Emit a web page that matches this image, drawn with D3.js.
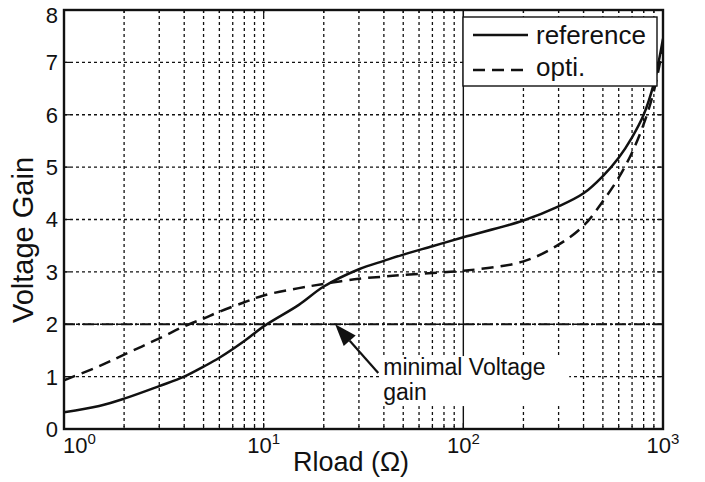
<!DOCTYPE html>
<html>
<head>
<meta charset="utf-8">
<script src="https://cdn.jsdelivr.net/npm/d3@7"></script>
<style>
  body { margin: 0; background: #fff; }
  svg text { font-family: "Liberation Sans", Arial, sans-serif; fill: #111; }
  .grid { stroke: #111; stroke-width: 1.3; stroke-dasharray: 3,3; }
</style>
</head>
<body>
<svg id="chart" width="705" height="482"></svg>
<script>
// values
const rload = [1, 1.5, 2, 3, 4, 5, 6, 8, 10, 15, 20, 30, 40, 50, 70, 100, 200, 300, 400, 500, 600, 700, 800, 900, 1000];
const reference = [0.32, 0.44, 0.58, 0.82, 1.0, 1.19, 1.36, 1.68, 1.96, 2.37, 2.72, 3.05, 3.21, 3.33, 3.49, 3.66, 3.98, 4.25, 4.5, 4.83, 5.18, 5.57, 6.0, 6.6, 7.45];
const opti = [0.93, 1.2, 1.42, 1.73, 1.96, 2.11, 2.24, 2.42, 2.55, 2.69, 2.77, 2.87, 2.91, 2.94, 2.98, 3.02, 3.2, 3.52, 3.88, 4.35, 4.8, 5.28, 5.82, 6.45, 7.3];
const yTicks = [0, 1, 2, 3, 4, 5, 6, 7, 8];
const xDecades = [0, 1, 2, 3];
const minimalGain = 2;
const legendLabels = ['reference', 'opti.'];
const noteLines = ['minimal Voltage', 'gain'];
const noteTip = { x: 22.8, y: 2 };
const noteTail = { x: 37.5, y: 1.07 };
const noteText = { x: 39.7, y: 1.03 };

const WIDTH = 705;
const HEIGHT = 482;
const margin = { top: 10, right: 42, bottom: 53, left: 64 };
const plotW = WIDTH - margin.left - margin.right;
const plotH = HEIGHT - margin.top - margin.bottom;

const svg = d3.select('#chart');
const x = d3.scaleLog().domain([1, 1000]).range([margin.left, margin.left + plotW]);
const y = d3.scaleLinear().domain([0, 8]).range([margin.top + plotH, margin.top]);

const minorX = [];
[1, 10, 100].forEach((base) => {
  for (let k = 2; k <= 9; k++) minorX.push(base * k);
});

// grid
const gridG = svg.append('g');
gridG.selectAll('line.vx')
  .data(minorX.concat([10]))
  .enter()
    .append('line')
    .classed('grid', true)
    .attr('x1', (d) => x(d))
    .attr('x2', (d) => x(d))
    .attr('y1', margin.top)
    .attr('y2', margin.top + plotH);
gridG.selectAll('line.hy')
  .data(yTicks.slice(1, -1))
  .enter()
    .append('line')
    .classed('grid', true)
    .attr('x1', margin.left)
    .attr('x2', margin.left + plotW)
    .attr('y1', (d) => y(d))
    .attr('y2', (d) => y(d));

// solid line at 10^2
svg.append('line')
  .attr('x1', x(100)).attr('x2', x(100))
  .attr('y1', margin.top).attr('y2', margin.top + plotH)
  .attr('stroke', '#111').attr('stroke-width', 1.4);

// ticks (inward)
const tickG = svg.append('g').attr('stroke', '#111').attr('stroke-width', 1.2);
const allX = minorX.concat(xDecades.map((e) => Math.pow(10, e)));
tickG.selectAll('line.tb')
  .data(allX)
  .enter()
    .append('line')
    .attr('x1', (d) => x(d)).attr('x2', (d) => x(d))
    .attr('y1', margin.top + plotH)
    .attr('y2', (d) => margin.top + plotH - (minorX.includes(d) ? 3 : 6));
tickG.selectAll('line.tt')
  .data(allX)
  .enter()
    .append('line')
    .attr('x1', (d) => x(d)).attr('x2', (d) => x(d))
    .attr('y1', margin.top)
    .attr('y2', (d) => margin.top + (minorX.includes(d) ? 3 : 6));
tickG.selectAll('line.tl')
  .data(yTicks)
  .enter()
    .append('line')
    .attr('x1', margin.left).attr('x2', margin.left + 6)
    .attr('y1', (d) => y(d)).attr('y2', (d) => y(d));
tickG.selectAll('line.tr')
  .data(yTicks)
  .enter()
    .append('line')
    .attr('x1', margin.left + plotW).attr('x2', margin.left + plotW - 6)
    .attr('y1', (d) => y(d)).attr('y2', (d) => y(d));

// minimal gain dash-dot line
svg.append('line')
  .attr('x1', x(1)).attr('x2', x(1000))
  .attr('y1', y(minimalGain)).attr('y2', y(minimalGain))
  .attr('stroke', '#111')
  .attr('stroke-width', 2.2)
  .attr('stroke-dasharray', '11,3,2,3');

// annotation box + text
const noteG = svg.append('g');
noteG.append('rect')
  .attr('x', x(noteText.x) - 4)
  .attr('y', y(noteText.y) - 19)
  .attr('width', 190)
  .attr('height', 50)
  .attr('fill', '#fff');
noteG.selectAll('text')
  .data(noteLines)
  .enter()
    .append('text')
    .attr('x', x(noteText.x))
    .attr('y', (d, i) => y(noteText.y) + i * 25)
    .attr('font-size', 23)
    .text((d) => d);

// arrow
const tipX = x(noteTip.x), tipY = y(noteTip.y);
const tailX = x(noteTail.x), tailY = y(noteTail.y);
const ang = Math.atan2(tailY - tipY, tailX - tipX);
const headLen = 22, headHalf = 8;
const bx = tipX + headLen * Math.cos(ang), by = tipY + headLen * Math.sin(ang);
noteG.append('line')
  .attr('x1', bx).attr('y1', by)
  .attr('x2', tailX).attr('y2', tailY)
  .attr('stroke', '#111').attr('stroke-width', 2.2);
noteG.append('path')
  .attr('d', `M${tipX},${tipY}L${bx - headHalf * Math.sin(ang)},${by + headHalf * Math.cos(ang)}L${bx + headHalf * Math.sin(ang)},${by - headHalf * Math.cos(ang)}Z`)
  .attr('fill', '#111');

// curves
svg.append('clipPath').attr('id', 'clip')
  .append('rect')
  .attr('x', margin.left).attr('y', margin.top)
  .attr('width', plotW).attr('height', plotH);
const line = d3.line()
  .x((d) => x(d[0]))
  .y((d) => y(d[1]))
  .curve(d3.curveCatmullRom.alpha(0.5));
const curveG = svg.append('g').attr('clip-path', 'url(#clip)');
curveG.append('path')
  .datum(rload.map((r, i) => [r, reference[i]]))
  .attr('d', line)
  .attr('fill', 'none')
  .attr('stroke', '#111')
  .attr('stroke-width', 2.5);
curveG.append('path')
  .datum(rload.map((r, i) => [r, opti[i]]))
  .attr('d', line)
  .attr('fill', 'none')
  .attr('stroke', '#111')
  .attr('stroke-width', 2.5)
  .attr('stroke-dasharray', '12,7');

// legend
const legend = svg.append('g');
legend.append('rect')
  .attr('x', 463).attr('y', 17)
  .attr('width', 194).attr('height', 69)
  .attr('fill', '#fff')
  .attr('stroke', '#111')
  .attr('stroke-width', 1.4);
legend.selectAll('line')
  .data(legendLabels)
  .enter()
    .append('line')
    .attr('x1', 473).attr('x2', 528)
    .attr('y1', (d, i) => 35 + i * 35)
    .attr('y2', (d, i) => 35 + i * 35)
    .attr('stroke', '#111')
    .attr('stroke-width', 2.5)
    .attr('stroke-dasharray', (d, i) => (i === 0 ? null : '12,7'));
legend.selectAll('text')
  .data(legendLabels)
  .enter()
    .append('text')
    .attr('x', 536)
    .attr('y', (d, i) => 44 + i * 32)
    .attr('font-size', 26)
    .text((d) => d);

// axes frame
svg.append('rect')
  .attr('x', margin.left).attr('y', margin.top)
  .attr('width', plotW).attr('height', plotH)
  .attr('fill', 'none')
  .attr('stroke', '#111')
  .attr('stroke-width', 2.4);

// y tick labels
svg.append('g').selectAll('text')
  .data(yTicks)
  .enter()
    .append('text')
    .attr('x', margin.left - 6)
    .attr('y', (d) => y(d) + (d === 8 ? 5 : 0))
    .attr('dy', '0.36em')
    .attr('text-anchor', 'end')
    .attr('font-size', 22)
    .text((d) => d);

// x tick labels 10^n
const xl = svg.append('g').selectAll('text')
  .data(xDecades)
  .enter()
    .append('text')
    .attr('x', (d) => (d === 0 ? margin.left - 1 : x(Math.pow(10, d))))
    .attr('y', margin.top + plotH + 24)
    .attr('text-anchor', (d) => (d === 0 ? 'start' : 'middle'))
    .attr('font-size', 22);
xl.append('tspan').text('10');
xl.append('tspan')
  .attr('dy', -9)
  .attr('font-size', 15)
  .text((d) => d);

// axis titles
svg.append('text')
  .attr('x', 351)
  .attr('y', 471)
  .attr('text-anchor', 'middle')
  .attr('font-size', 27)
  .text('Rload (Ω)');
svg.append('text')
  .attr('transform', 'translate(33, 240) rotate(-90)')
  .attr('text-anchor', 'middle')
  .attr('font-size', 29)
  .text('Voltage Gain');
</script>
</body>
</html>
